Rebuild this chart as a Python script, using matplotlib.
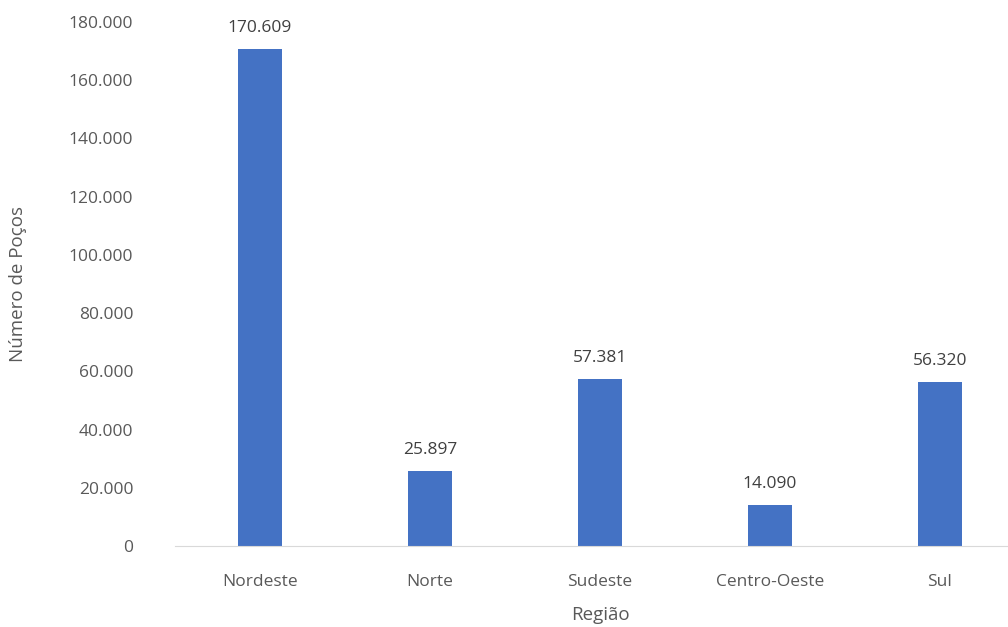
import matplotlib.pyplot as plt
from matplotlib.ticker import FuncFormatter

# wells per region
regioes = ['Nordeste', 'Norte', 'Sudeste', 'Centro-Oeste', 'Sul']
pocos = [170609, 25897, 57381, 14090, 56320]

def milhar(v, pos=None):
    return f'{int(v):,}'.replace(',', '.')

plt.rcParams['font.family'] = ['Open Sans', 'DejaVu Sans']
cinza = '#595959'

fig = plt.figure(figsize=(10.08, 6.27), dpi=100)
ax = fig.add_axes([175 / 1008, 1 - 546 / 627, 850 / 1008, (546 - 22) / 627])

x = range(len(regioes))
barras = ax.bar(x, pocos, width=0.26, color='#4472C4')

for xi, v in zip(x, pocos):
    ax.text(xi, v + 4500, milhar(v), ha='center', va='bottom',
            fontsize=12.5, color='#404040')

ax.set_xlim(-0.5, len(regioes) - 0.5)
ax.set_ylim(0, 180000)
ax.set_yticks(range(0, 180001, 20000))
ax.yaxis.set_major_formatter(FuncFormatter(milhar))
ax.set_xticks(list(x))
ax.set_xticklabels(regioes)
ax.tick_params(axis='both', length=0, labelsize=12.5, colors=cinza)
ax.tick_params(axis='x', pad=20)
ax.tick_params(axis='y', pad=30)

for s in ['top', 'right', 'left']:
    ax.spines[s].set_visible(False)
ax.spines['bottom'].set_color('#D9D9D9')

ax.set_xlabel('Região', fontsize=13.5, color=cinza, labelpad=12)
ax.set_ylabel('Número de Poços', fontsize=13.5, color=cinza, labelpad=30)

fig.savefig('out.png', dpi=100)
